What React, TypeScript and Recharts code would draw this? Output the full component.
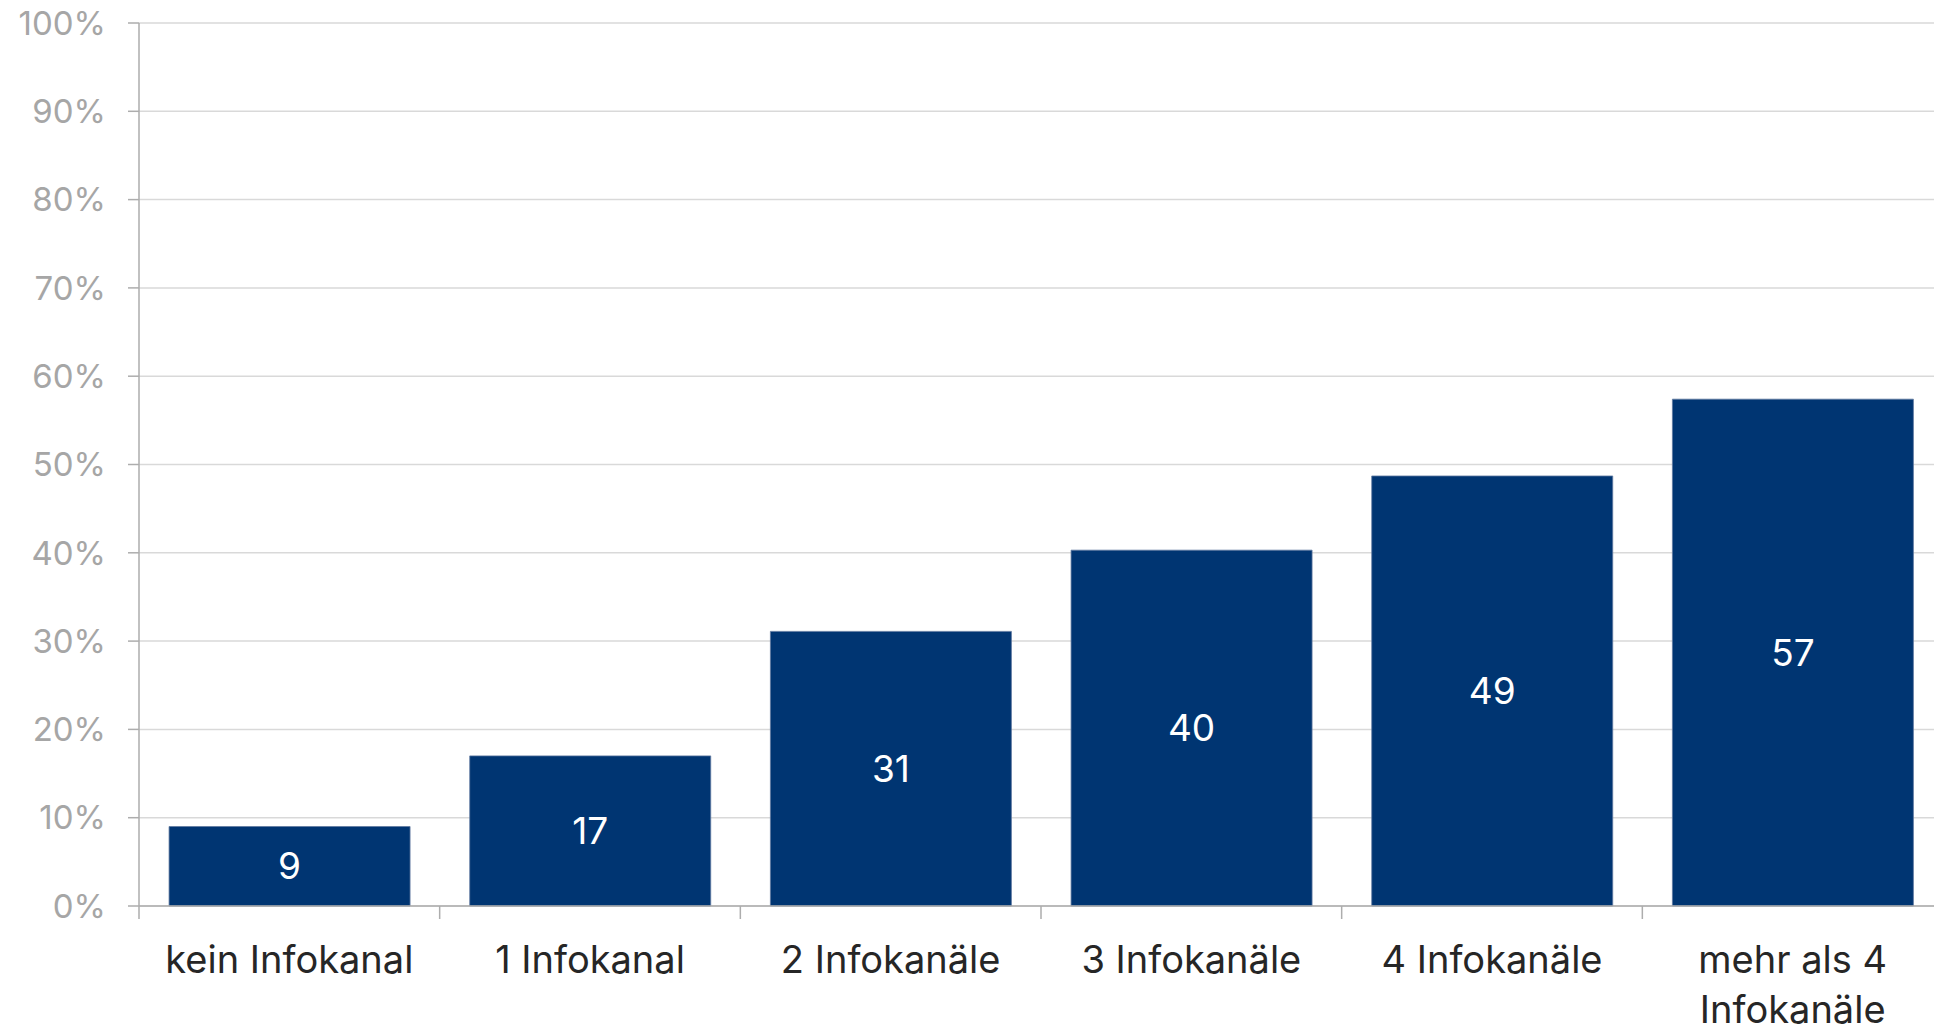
import { Bar, BarChart, CartesianGrid, LabelList, XAxis, YAxis } from "recharts";

const categories = [
  "kein Infokanal",
  "1 Infokanal",
  "2 Infokanäle",
  "3 Infokanäle",
  "4 Infokanäle",
  "mehr als 4\nInfokanäle",
];
const shares = [9.0, 17.0, 31.1, 40.3, 48.7, 57.4];
const yTicks = [0, 10, 20, 30, 40, 50, 60, 70, 80, 90, 100];

const data = categories.map((name, i) => ({ name, value: shares[i] }));

const FONT = "Inter, 'Noto Sans', sans-serif";
const NAVY = "#003572";
const AXIS = "#adadad";
const TICK_MARGIN = 40;

// Excel-style x axis: tick marks sit between the categories, not under them
function CategoryTick(props: any) {
  const { x, y, payload, index, width, visibleTicksCount } = props;
  const band = width / visibleTicksCount;
  const axisY = y - TICK_MARGIN;
  const lines = String(payload.value).split("\n");
  const last = index === visibleTicksCount - 1;
  return (
    <g>
      <line x1={x - band / 2} x2={x - band / 2} y1={axisY} y2={axisY + 13} stroke={AXIS} strokeWidth={1.5} />
      {last && (
        <line x1={x + band / 2} x2={x + band / 2} y1={axisY} y2={axisY + 13} stroke={AXIS} strokeWidth={1.5} />
      )}
      <text x={x} y={y} textAnchor="middle" fontSize={38} fontFamily={FONT} fill="#262626">
        {lines.map((l, i) => (
          <tspan key={i} x={x} dy={i === 0 ? "0.71em" : 50}>
            {l}
          </tspan>
        ))}
      </text>
    </g>
  );
}

export default function App() {
  return (
    <div
      style={{
        position: "fixed",
        left: 0,
        top: 0,
        width: 1934,
        height: 1028,
        overflow: "hidden",
        background: "#fff",
      }}
    >
      <BarChart
        width={1950}
        height={1028}
        data={data}
        margin={{ top: 23, right: 7, left: 0, bottom: 0 }}
        barCategoryGap="10%"
      >
        <CartesianGrid vertical={false} stroke="#d9d9d9" strokeWidth={1.5} />
        <XAxis
          dataKey="name"
          interval={0}
          height={122}
          axisLine={{ stroke: AXIS, strokeWidth: 1.5 }}
          tickLine={false}
          tickSize={0}
          tickMargin={TICK_MARGIN}
          tick={<CategoryTick />}
        />
        <YAxis
          width={139}
          domain={[0, 100]}
          ticks={yTicks}
          interval={0}
          tickFormatter={(v: number) => `${v}%`}
          axisLine={{ stroke: AXIS, strokeWidth: 1.5 }}
          tickLine={{ stroke: AXIS, strokeWidth: 1.5 }}
          tickSize={11}
          tickMargin={22}
          tick={{ fill: "#a6a6a6", fontSize: 33, fontFamily: FONT }}
        />
        <Bar dataKey="value" fill={NAVY} stroke="#5f79a0" strokeWidth={0.8} isAnimationActive={false}>
          <LabelList
            dataKey="value"
            position="center"
            formatter={(v: any) => Math.round(Number(v))}
            fill="#ffffff"
            fontSize={37}
            fontFamily={FONT}
          />
        </Bar>
      </BarChart>
    </div>
  );
}
